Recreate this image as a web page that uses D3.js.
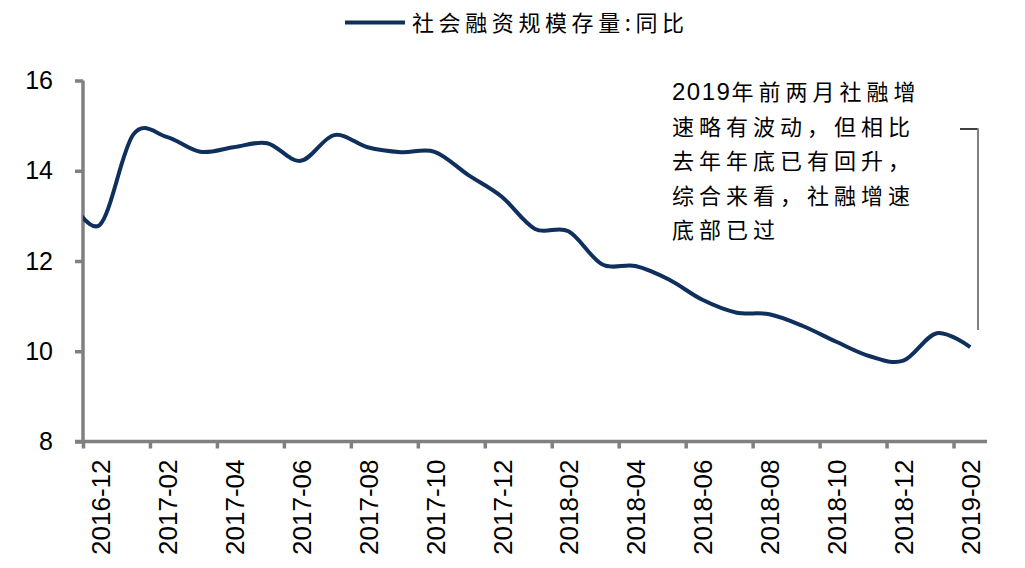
<!DOCTYPE html>
<html>
<head>
<meta charset="utf-8">
<script src="https://cdn.jsdelivr.net/npm/d3@7/dist/d3.min.js"></script>
<style>
  html, body { margin: 0; padding: 0; background: #fff; }
  svg { display: block; }
</style>
</head>
<body>
<script>
// ---- data ----
const months = ["2016-12","2017-01","2017-02","2017-03","2017-04","2017-05","2017-06","2017-07","2017-08","2017-09","2017-10","2017-11","2017-12","2018-01","2018-02","2018-03","2018-04","2018-05","2018-06","2018-07","2018-08","2018-09","2018-10","2018-11","2018-12","2019-01","2019-02"];
const values = [12.8,14.8,14.75,14.42,14.52,14.61,14.22,14.79,14.52,14.41,14.42,13.91,13.43,12.71,12.66,11.93,11.89,11.59,11.14,10.86,10.82,10.56,10.21,9.89,9.79,10.40,10.09];
// value of the month before the first category (2016-11); its segment is clipped at the axis
const priorMonth = "2016-11";
const priorValue = 13.5;
const yTicks = [8, 10, 12, 14, 16];
const xLabelMonths = months.filter((d, i) => i % 2 === 0);
const seriesName = "社会融资规模存量:同比";
const noteLines = ["2019年前两月社融增", "速略有波动，但相比", "去年年底已有回升，", "综合来看，社融增速", "底部已过"];

// ---- layout ----
const W = 1025, H = 568;
const plot = { left: 83, right: 987, top: 80.5, bottom: 441.5 };
const axisColor = "#808080";
const lineColor = "#0f2f5c";
const cjk = "'Noto Sans CJK SC', 'Noto Sans', sans-serif";
const latin = "'Liberation Sans', Arial, sans-serif";

const svg = d3.select("body").append("svg").attr("width", W).attr("height", H);
svg.append("rect").attr("width", W).attr("height", H).attr("fill", "#fff");

const xBand = d3.scaleBand().domain(months).range([plot.left, plot.right]).padding(0);
const xIdx = d3.scaleLinear().domain([0, months.length]).range([plot.left, plot.right]);
const y = d3.scaleLinear().domain([8, 16]).range([plot.bottom, plot.top]);

// clip
svg.append("clipPath").attr("id", "plotclip").append("rect")
  .attr("x", plot.left).attr("y", 0).attr("width", plot.right - plot.left).attr("height", H);

// y axis
const yAxis = svg.append("g").attr("transform", `translate(${plot.left},0)`)
  .call(d3.axisLeft(y).tickValues(yTicks).tickSize(8).tickPadding(22).tickFormat(d3.format("d")));
yAxis.select(".domain").attr("stroke", axisColor).attr("stroke-width", 3.5).attr("d", `M0,${plot.top}V${plot.bottom}`);
yAxis.selectAll(".tick line").attr("stroke", axisColor).attr("stroke-width", 3.5);
yAxis.selectAll(".tick text").attr("fill", "#000").style("font-family", latin).style("font-size", "25px");

// x axis ticks at category boundaries (every 2 months)
const tickIdx = d3.range(0, months.length + 1, 2).filter(i => i < months.length);
const xAxis = svg.append("g").attr("transform", `translate(0,${plot.bottom})`)
  .call(d3.axisBottom(xIdx).tickValues(tickIdx).tickSize(7).tickFormat(""));
xAxis.select(".domain").attr("stroke", axisColor).attr("stroke-width", 3.5).attr("d", `M${plot.left - 8},0H${plot.right}`);
xAxis.selectAll(".tick line").attr("stroke", axisColor).attr("stroke-width", 3.5);

// x labels centered on categories
const xLab = svg.append("g").attr("transform", `translate(0,${plot.bottom})`)
  .call(d3.axisBottom(xBand).tickValues(xLabelMonths).tickSize(0).tickPadding(0));
xLab.select(".domain").remove();
xLab.selectAll(".tick text")
  .attr("fill", "#000")
  .style("font-family", latin).style("font-size", "26px")
  .attr("text-anchor", "end")
  .attr("dy", null)
  .attr("y", 0)
  .attr("transform", "translate(1,18) rotate(-90)")
  .attr("dominant-baseline", "central");

// line
const pts = [{ i: -1, v: priorValue }].concat(values.map((v, i) => ({ i, v })));
const line = d3.line()
  .x(d => xIdx(d.i + 0.5))
  .y(d => y(d.v))
  .curve(d3.curveCardinal.tension(0));
svg.append("path").datum(pts)
  .attr("clip-path", "url(#plotclip)")
  .attr("fill", "none").attr("stroke", lineColor).attr("stroke-width", 4)
  .attr("stroke-linejoin", "round").attr("stroke-linecap", "butt")
  .attr("d", line);

// legend
svg.append("line").attr("x1", 345).attr("x2", 405).attr("y1", 22.5).attr("y2", 22.5)
  .attr("stroke", lineColor).attr("stroke-width", 4);
svg.append("text").attr("x", 412).attr("y", 31)
  .style("font-family", cjk).style("font-size", "22px").style("letter-spacing", "4.6px")
  .attr("fill", "#000").text(seriesName);

// annotation
const note = svg.append("g").style("font-family", cjk).style("font-size", "22px").attr("fill", "#000");
noteLines.forEach((t, k) => {
  const tx = note.append("text").attr("x", 672).attr("y", 100 + k * 34.6).style("letter-spacing", "5px");
  const m = t.match(/^(\d+)(.*)$/);
  if (m) {
    tx.append("tspan").style("font-family", latin).style("font-size", "24px").style("letter-spacing", "1.5px").text(m[1]);
    tx.append("tspan").text(m[2]);
  } else {
    tx.text(t);
  }
});
// bracket
svg.append("line").attr("x1", 960).attr("x2", 978).attr("y1", 129).attr("y2", 129).attr("stroke", "#000").attr("stroke-width", 1.5);
svg.append("line").attr("x1", 978).attr("x2", 978).attr("y1", 128.3).attr("y2", 330).attr("stroke", axisColor).attr("stroke-width", 2);
</script>
</body>
</html>
